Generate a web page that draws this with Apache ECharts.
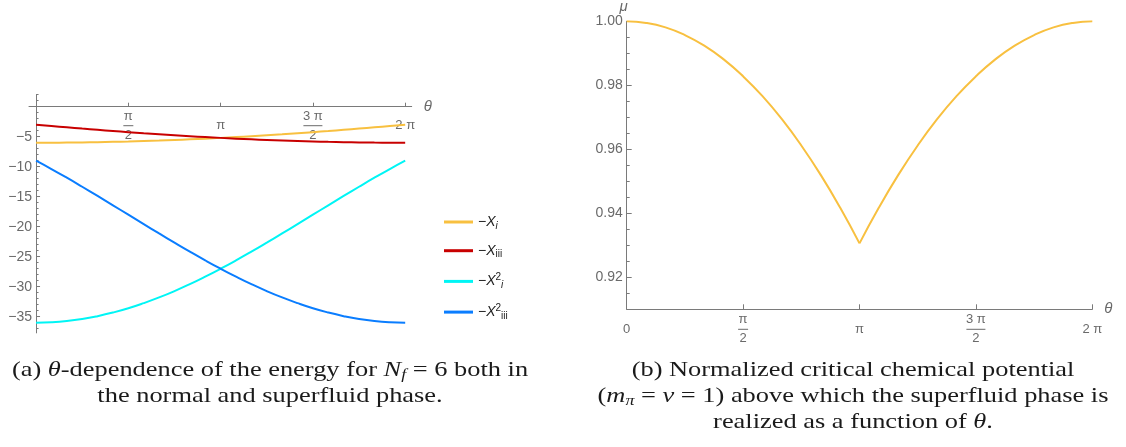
<!DOCTYPE html>
<html><head><meta charset="utf-8">
<script src="https://cdn.jsdelivr.net/npm/echarts@6/dist/echarts.min.js"></script>
<style>html,body{margin:0;padding:0;background:#fff}#c{width:1126px;height:447px}</style>
</head><body><div id="c"></div><script>
// ---------- data ----------
const theta = [0, 0.2618, 0.5236, 0.7854, 1.0472, 1.3090, 1.5708, 1.8326, 2.0944, 2.3562, 2.6180, 2.8798, 3.1416,
  3.4034, 3.6652, 3.9270, 4.1888, 4.4506, 4.7124, 4.9742, 5.2360, 5.4978, 5.7596, 6.0214, 6.2832];
const negXi = [-6.000, -5.994, -5.977, -5.949, -5.909, -5.858, -5.796, -5.722, -5.638, -5.543, -5.438, -5.322, -5.196,
  -5.060, -4.915, -4.760, -4.596, -4.424, -4.243, -4.054, -3.857, -3.653, -3.441, -3.224, -3.000];
const negXiii = [-3.000, -3.224, -3.441, -3.653, -3.857, -4.054, -4.243, -4.424, -4.596, -4.760, -4.915, -5.060, -5.196,
  -5.322, -5.438, -5.543, -5.638, -5.722, -5.796, -5.858, -5.909, -5.949, -5.977, -5.994, -6.000];
const negX2i = [-36.00, -35.93, -35.73, -35.39, -34.91, -34.31, -33.59, -32.74, -31.79, -30.73, -29.57, -28.32, -27.00,
  -25.61, -24.16, -22.66, -21.13, -19.57, -18.00, -16.43, -14.87, -13.34, -11.84, -10.39, -9.00];
const negX2iii = [-9.00, -10.39, -11.84, -13.34, -14.87, -16.43, -18.00, -19.57, -21.13, -22.66, -24.16, -25.61, -27.00,
  -28.32, -29.57, -30.73, -31.79, -32.74, -33.59, -34.31, -34.91, -35.39, -35.73, -35.93, -36.00];
const muNorm = [1.0000, 0.9995, 0.9981, 0.9957, 0.9924, 0.9881, 0.9828, 0.9766, 0.9694, 0.9612, 0.9520, 0.9418, 0.9306,
  0.9418, 0.9520, 0.9612, 0.9694, 0.9766, 0.9828, 0.9881, 0.9924, 0.9957, 0.9981, 0.9995, 1.0000];

const seriesNames = ['Xi', 'Xiii', 'X2i', 'X2iii'];
const seriesLegend = ['{m|−}{x|X}{si|i}', '{m|−}{x|X}{su0|iii}', '{m|−}{x|X}{sp|2}{si|i}', '{m|−}{x|X}{sp|2}{su0|iii}'];
const seriesColors = ['#f8c040', '#c80000', '#00f5f5', '#0a7dff'];

const thetaTickValues = [0, 1.5708, 3.1416, 4.7124, 6.2832];
const thetaTickLabels = ['0', 'π/2', 'π', '3 π/2', '2 π'];
const leftYTickValues = [-35, -30, -25, -20, -15, -10, -5];
const leftYTickLabels = ['−35', '−30', '−25', '−20', '−15', '−10', '−5'];
const rightYTickValues = [0.92, 0.94, 0.96, 0.98, 1.00];
const rightYTickLabels = ['0.92', '0.94', '0.96', '0.98', '1.00'];
const rightYMinor = [0.915, 0.925, 0.93, 0.935, 0.945, 0.95, 0.955, 0.965, 0.97, 0.975, 0.985, 0.99, 0.995];
const leftYMinor = [];
for (let v = -37; v <= 2; v++) leftYMinor.push(v);

// ---------- styles ----------
const AX = '#7a7a7a', LB = '#6a6a6a';
const SANS = 'Liberation Sans, Arial, sans-serif';
const SERIF = 'Liberation Serif, Times New Roman, serif';

function labelFrom(values, labels) {
  return function (v) {
    let best = 0;
    for (let i = 0; i < values.length; i++) if (Math.abs(values[i] - v) < Math.abs(values[best] - v)) best = i;
    return labels[best];
  };
}
const thetaLabel = labelFrom(thetaTickValues, thetaTickLabels);
function thetaFmt(v) {
  const s = thetaLabel(v);
  if (s.indexOf('/') >= 0) {
    const p = s.split('/');
    const bar = p[0].length > 1 ? 'b2' : 'b1';
    return '{n|' + p[0] + '}\n{' + bar + '| }\n{d|' + p[1] + '}';
  }
  return '{c|' + s + '}';
}
const fracRich = {
  n: {fontSize: 13, lineHeight: 15, color: LB, fontFamily: SANS},
  d: {fontSize: 13, lineHeight: 15, color: LB, fontFamily: SANS},
  c: {fontSize: 13, lineHeight: 34, color: LB, fontFamily: SANS},
  b1: {width: 10, height: 1, lineHeight: 4, fontSize: 2, backgroundColor: LB},
  b2: {width: 19, height: 1, lineHeight: 4, fontSize: 2, backgroundColor: LB}
};
const nameStyle = {fontFamily: SANS, fontStyle: 'italic', fontSize: 15, color: LB};

const chart = echarts.init(document.getElementById('c'), null, {renderer: 'canvas'});

function mk(vals, a, b) { const out = []; for (let i = a; i <= b; i++) out.push([theta[i], vals[i]]); return out; }
const leftData = [negXi, negXiii, negX2i, negX2iii];

const LOFF = 7.05; // px from grid left to x = 0 (left chart)

const option = {
  animation: false,
  backgroundColor: '#fff',
  grid: [
    {left: 29, top: 94.7, width: 382.7, height: 238.2, outerBoundsMode: 'none', containLabel: false},
    {left: 626.7, top: 21.3, width: 465.6, height: 288, outerBoundsMode: 'none', containLabel: false}
  ],
  xAxis: [
    {type: 'value', gridIndex: 0, min: -0.12, max: 6.394, position: 'top', offset: -12,
      axisLine: {onZero: false, lineStyle: {color: AX, width: 1}},
      axisTick: {inside: false, length: 4, customValues: thetaTickValues.slice(1), lineStyle: {color: AX}},
      axisLabel: {inside: true, customValues: thetaTickValues.slice(1), formatter: thetaFmt, rich: fracRich, margin: 2, color: LB},
      splitLine: {show: false},
      name: 'θ', nameLocation: 'end', nameGap: 12, nameTextStyle: nameStyle},
    {type: 'value', gridIndex: 1, min: 0, max: 6.2832, position: 'bottom',
      axisLine: {onZero: false, lineStyle: {color: AX, width: 1}},
      axisTick: {inside: true, length: 5, customValues: thetaTickValues.slice(1), lineStyle: {color: AX}},
      axisLabel: {customValues: thetaTickValues, formatter: thetaFmt, rich: fracRich, margin: 3, color: LB},
      splitLine: {show: false},
      name: 'θ', nameLocation: 'end', nameGap: 12, nameTextStyle: nameStyle}
  ],
  yAxis: [
    {type: 'value', gridIndex: 0, min: -37.7, max: 2, position: 'left', offset: -LOFF,
      axisLine: {show: true, onZero: false, lineStyle: {color: AX, width: 1}},
      axisTick: {inside: true, length: 4, customValues: leftYTickValues, lineStyle: {color: AX}},
      axisLabel: {customValues: leftYTickValues, formatter: labelFrom(leftYTickValues, leftYTickLabels),
        margin: 4, color: LB, fontSize: 14, fontFamily: SANS},
      splitLine: {show: false}},
    {type: 'value', gridIndex: 0, min: -37.7, max: 2, position: 'left', offset: -LOFF,
      axisLine: {show: false, onZero: false},
      axisTick: {inside: true, length: 2.5, customValues: leftYMinor, lineStyle: {color: AX}},
      axisLabel: {show: false}, splitLine: {show: false}},
    {type: 'value', gridIndex: 1, min: 0.91, max: 1.0, position: 'left',
      axisLine: {show: true, onZero: false, lineStyle: {color: AX, width: 1}},
      axisTick: {inside: true, length: 5, customValues: rightYTickValues, lineStyle: {color: AX}},
      axisLabel: {customValues: rightYTickValues, formatter: labelFrom(rightYTickValues, rightYTickLabels),
        margin: 4, color: LB, fontSize: 14, fontFamily: SANS},
      splitLine: {show: false},
      name: 'μ', nameLocation: 'end', nameGap: 6, nameTextStyle: Object.assign({}, nameStyle, {padding: [0, 6, 0, 0]})},
    {type: 'value', gridIndex: 1, min: 0.91, max: 1.0, position: 'left', offset: 0,
      axisLine: {show: false, onZero: false},
      axisTick: {inside: true, length: 3, customValues: rightYMinor, lineStyle: {color: AX}},
      axisLabel: {show: false}, splitLine: {show: false}}
  ],
  legend: {
    orient: 'vertical', left: 439, top: 210, itemWidth: 29, itemHeight: 3, itemGap: 12.7, icon: 'rect',
    itemStyle: {borderWidth: 0},
    data: seriesNames,
    formatter: function (n) { return seriesLegend[seriesNames.indexOf(n)]; },
    textStyle: {
      fontFamily: SANS, fontSize: 14, color: '#222',
      rich: {
        m: {fontSize: 14, lineHeight: 18, fontFamily: SANS, color: '#222'},
        x: {fontSize: 14, lineHeight: 18, fontStyle: 'italic', fontFamily: SANS, color: '#222'},
        si: {fontSize: 10, lineHeight: 12, fontStyle: 'italic', verticalAlign: 'bottom', fontFamily: SANS, color: '#222'},
        su0: {fontSize: 10, lineHeight: 12, verticalAlign: 'bottom', fontFamily: SANS, color: '#222'},
        sp: {fontSize: 10, lineHeight: 8, verticalAlign: 'top', fontFamily: SANS, color: '#222'}
      }
    }
  },
  series: seriesNames.map((n, i) => ({
    name: n, type: 'line', xAxisIndex: 0, yAxisIndex: 0, data: mk(leftData[i], 0, 24),
    showSymbol: false, symbol: 'none', smooth: true, color: seriesColors[i],
    lineStyle: {color: seriesColors[i], width: 2}, z: 3 + i
  })).concat([
    {name: 'mu', type: 'line', xAxisIndex: 1, yAxisIndex: 2, data: mk(muNorm, 0, 12),
      showSymbol: false, symbol: 'none', smooth: true, color: '#f8c040',
      lineStyle: {color: '#f8c040', width: 2}, z: 3},
    {name: 'mu', type: 'line', xAxisIndex: 1, yAxisIndex: 2, data: mk(muNorm, 12, 24),
      showSymbol: false, symbol: 'none', smooth: true, color: '#f8c040',
      lineStyle: {color: '#f8c040', width: 2}, z: 3}
  ]),
  graphic: []
};

const capRich = {
  it: {fontFamily: SERIF, fontSize: 22, fontStyle: 'italic', lineHeight: 26, fill: '#1a1a1a'},
  sub: {fontFamily: SERIF, fontSize: 15, fontStyle: 'italic', lineHeight: 15, verticalAlign: 'bottom', fill: '#1a1a1a'}
};
const captions = [
  ['(a) {it|θ}-dependence of the energy for {it|N}{sub|f} = 6 both in', 270, 370],
  ['the normal and superfluid phase.', 270, 396],
  ['(b) Normalized critical chemical potential', 853, 370],
  ['({it|m}{sub|π} = {it|ν} = 1) above which the superfluid phase is', 853, 396],
  ['realized as a function of {it|θ}.', 853, 422]
];
option.graphic = captions.map(c => ({
  type: 'text', x: c[1], y: c[2], scaleX: 1.2, silent: true,
  style: {text: c[0], rich: capRich, fontFamily: SERIF, fontSize: 22, lineHeight: 26, fill: '#1a1a1a',
    align: 'center', verticalAlign: 'middle'}
}));

chart.setOption(option);
</script></body></html>
